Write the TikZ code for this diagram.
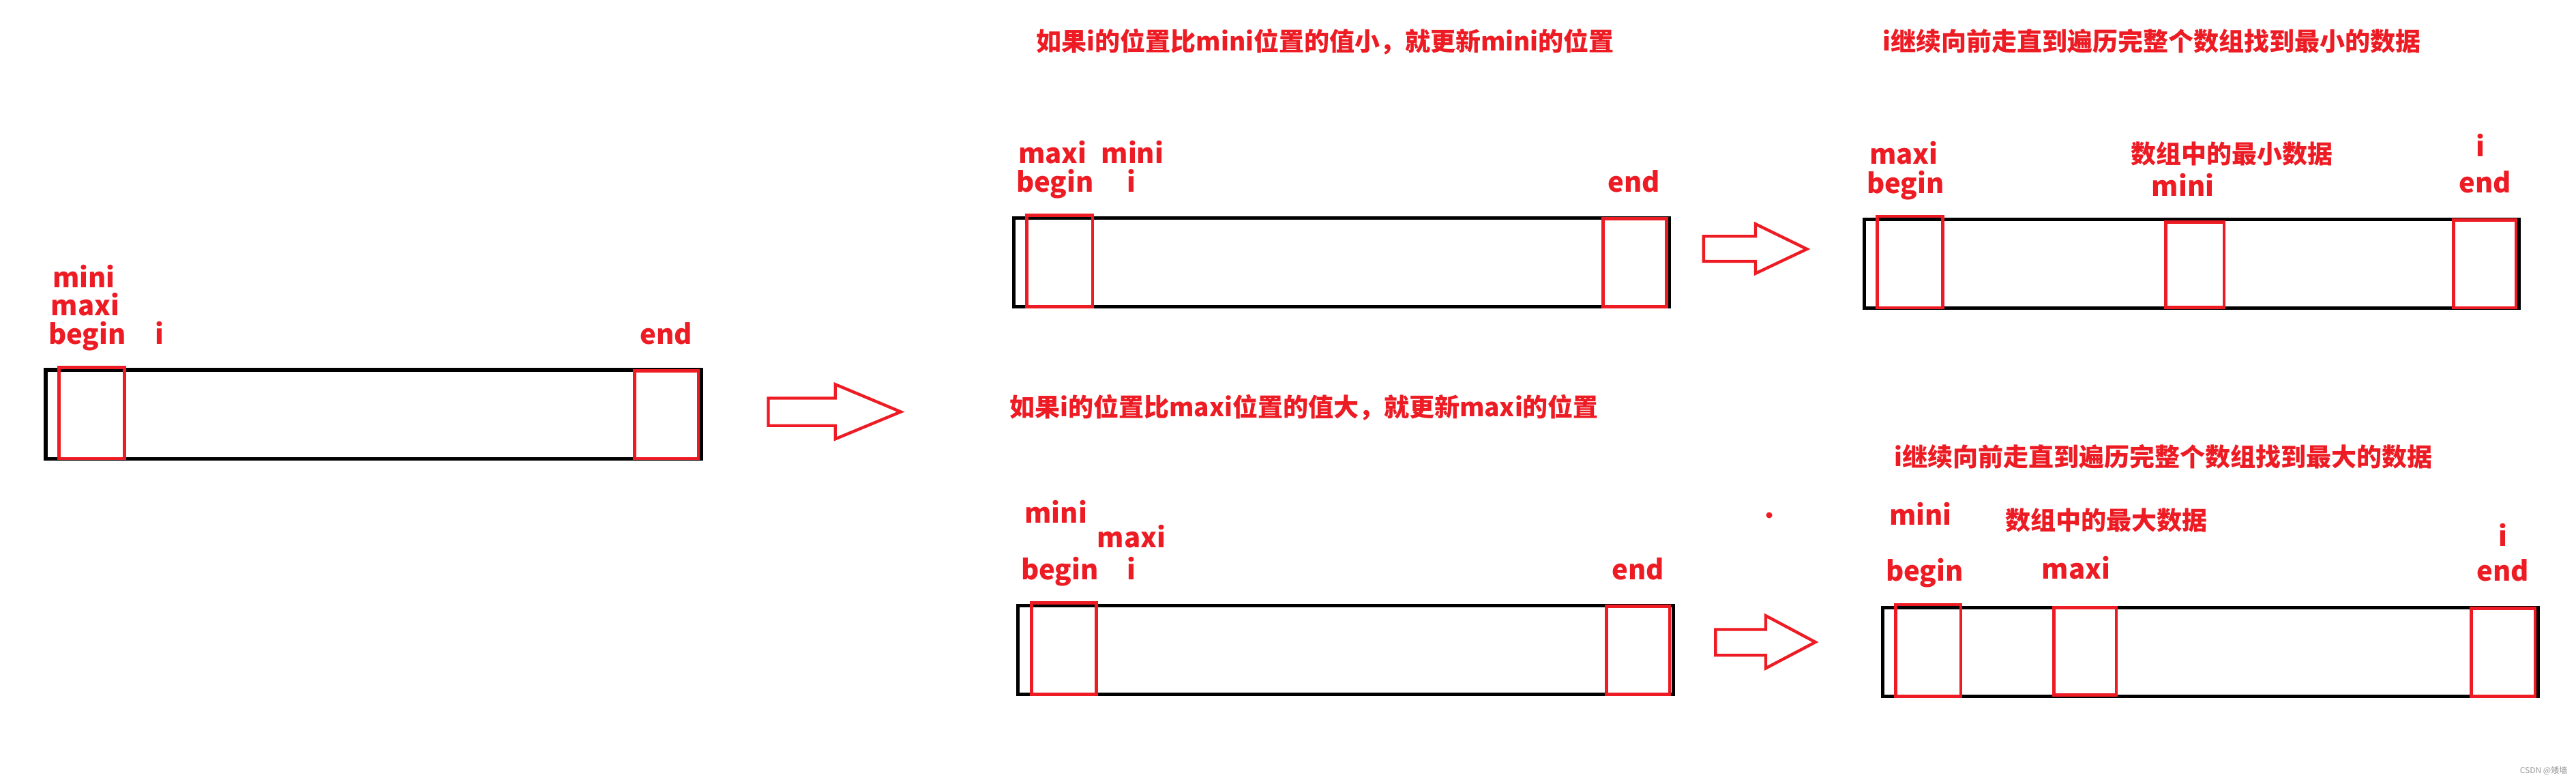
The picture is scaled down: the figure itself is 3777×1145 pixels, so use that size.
\documentclass[tikz,border=0pt]{standalone}
\usepackage{fontspec}
\setmainfont{Noto Sans CJK SC}
\definecolor{pred}{RGB}{237,28,36}
\definecolor{wm}{RGB}{150,150,150}
\begin{document}
\begin{tikzpicture}[x=0.25pt,y=-0.25pt,
  arr/.style={black,line width=1.3pt},
  cell/.style={pred,line width=1.2pt},
  blockarrow/.style={pred,line width=1.1pt,line join=miter},
  lbl/.style={pred,inner sep=0pt,anchor=base,font=\fontsize{10pt}{12pt}\selectfont\bfseries},
  ttl/.style={pred,inner sep=0pt,anchor=base west,font=\fontsize{9.25pt}{11pt}\selectfont\bfseries}]
\useasboundingbox (0,0) rectangle (3777,1145);
% ---------- panel 1 ----------
\draw[arr] (67,542) rectangle (1028,672.5);
\draw[cell] (86.6,538.3) rectangle (182.7,672);
\draw[cell] (930.6,543.5) rectangle (1023.9,672);
\node[lbl] (p1mini) at (123,421.7) {mini};
\node[lbl] (p1maxi) at (125,462.7) {maxi};
\node[lbl] (p1begin) at (128,504) {begin};
\node[lbl] (p1i) at (233.6,504) {i};
\node[lbl] (p1end) at (976.5,504) {end};
% big arrow
\draw[blockarrow] (1126.5,583.5) -- (1224.7,583.5) -- (1224.7,563.3) -- (1320.7,603.5)
  -- (1224.7,643.3) -- (1224.7,623.7) -- (1126.5,623.7) -- cycle;
% ---------- panel 2 top ----------
\node[ttl] (t2a) at (1519,75) {如果i的位置比mini位置的值小，就更新mini的位置};
\draw[arr] (1486.1,319.5) rectangle (2447,449.5);
\draw[cell] (1505.8,315.3) rectangle (1601.9,449.7);
\draw[cell] (2350.4,320.5) rectangle (2443.7,449.7);
\node[lbl] (p2maxi) at (1543.3,239.3) {maxi};
\node[lbl] (p2begin) at (1546.8,281.7) {begin};
\node[lbl] (p2mini) at (1660.4,239.3) {mini};
\node[lbl] (p2i) at (1659,281.7) {i};
\node[lbl] (p2end) at (2395.6,281.7) {end};
% small arrow top
\draw[blockarrow] (2497.8,346.2) -- (2574,346.2) -- (2574,328.3) -- (2649.3,365)
  -- (2574,400.7) -- (2574,383) -- (2497.8,383) -- cycle;
% ---------- panel 3 top ----------
\node[ttl] (t3a) at (2760,75) {i继续向前走直到遍历完整个数组找到最小的数据};
\draw[arr] (2733.6,321.3) rectangle (3693.1,451.3);
\draw[cell] (2752.8,317) rectangle (2848.1,451);
\draw[cell] (3175.5,325.3) rectangle (3261,450.8);
\draw[cell] (3597.4,322.3) rectangle (3689,451);
\node[lbl] (p3maxi) at (2791.4,240.7) {maxi};
\node[lbl] (p3begin) at (2793.7,283.3) {begin};
\node[ttl] (p3note) at (3123.3,239) {数组中的最小数据};
\node[lbl] (p3mini) at (3200.6,287.3) {mini};
\node[lbl] (p3i) at (3636.8,229.3) {i};
\node[lbl] (p3end) at (3643.5,282.7) {end};
% ---------- panel 2 bottom ----------
\node[ttl] (t2b) at (1479.5,610) {如果i的位置比maxi位置的值大，就更新maxi的位置};
\draw[arr] (1492.4,887.5) rectangle (2453.2,1017.5);
\draw[cell] (1512.1,883.2) rectangle (1607.5,1017.5);
\draw[cell] (2355.3,888.5) rectangle (2447.9,1017.5);
\node[lbl] (p4mini) at (1548.2,766) {mini};
\node[lbl] (p4maxi) at (1659,802) {maxi};
\node[lbl] (p4begin) at (1553.8,849.3) {begin};
\node[lbl] (p4i) at (1659,849.3) {i};
\node[lbl] (p4end) at (2402,849.3) {end};
% small arrow bottom
\draw[blockarrow] (2515.3,922.5) -- (2589,922.5) -- (2589,902.3) -- (2661.7,941)
  -- (2589,979.3) -- (2589,960.2) -- (2515.3,960.2) -- cycle;
% stray dot
\fill[pred] (2594,755) circle (4.5);
% ---------- panel 3 bottom ----------
\node[ttl] (t3b) at (2777,683) {i继续向前走直到遍历完整个数组找到最大的数据};
\draw[arr] (2760.2,890.4) rectangle (3721.1,1020.7);
\draw[cell] (2779.7,886) rectangle (2875,1020.5);
\draw[cell] (3011.8,890.4) rectangle (3103,1018.1);
\draw[cell] (3623.4,891.1) rectangle (3717,1020.5);
\node[lbl] (p5mini) at (2816,769.6) {mini};
\node[ttl] (p5note) at (2939.7,776) {数组中的最大数据};
\node[lbl] (p5begin) at (2821.7,851) {begin};
\node[lbl] (p5maxi) at (3044,848.5) {maxi};
\node[lbl] (p5i) at (3670,800) {i};
\node[lbl] (p5end) at (3669.4,851) {end};
% watermark
\node[wm,inner sep=0pt,anchor=base west,font=\fontsize{3pt}{4pt}\selectfont] (wmk) at (3694,1133) {CSDN @矮墙};
\end{tikzpicture}
\end{document}
